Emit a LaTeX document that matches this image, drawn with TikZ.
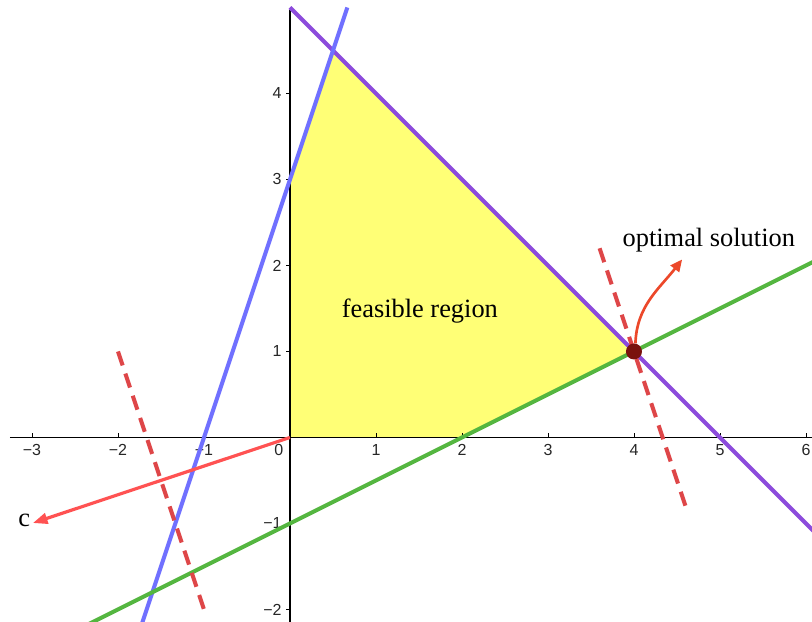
\documentclass[tikz,border=0pt]{standalone}
\usepackage{fontspec}
\setmainfont{Liberation Serif}
\newfontfamily\tickfont{Liberation Sans}
\usetikzlibrary{arrows.meta}
\definecolor{feasyellow}{RGB}{255,255,118}
\definecolor{linepurple}{RGB}{140,75,220}
\definecolor{lineblue}{RGB}{112,112,255}
\definecolor{linegreen}{RGB}{84,182,64}
\definecolor{vecred}{RGB}{255,82,82}
\definecolor{dashred}{RGB}{222,70,72}
\definecolor{ptred}{RGB}{122,18,14}
\definecolor{arrred}{RGB}{236,72,42}
\tikzset{
  constraint/.style={line width=3pt},
  axisline/.style={line width=0.9pt, black},
  levelset/.style={line width=3pt, dashred, dash pattern=on 11pt off 6.5pt},
  tick/.style={line width=0.6pt, black},
  ticklab/.style={font=\tickfont\fontsize{12}{14}\selectfont, text=black!85, inner sep=1pt},
  biglab/.style={font=\fontsize{19.8}{22}\selectfont, inner sep=0pt},
}
\begin{document}
\begin{tikzpicture}[x=64.5pt,y=64.5pt]
\useasboundingbox (-3.372,-2.145) rectangle (6.070,5.087);
\begin{scope}
\clip (-3.372,-2.145) rectangle (6.070,5.087);
% feasible region
\fill[feasyellow] (0,0) -- (0,3) -- (0.5,4.5) -- (4,1) -- (2,0) -- cycle;
% axes
\coordinate (xl) at (-3.256,0);
\coordinate (xr) at (6.07,0);
\coordinate (yb) at (0,-2.145);
\coordinate (yt) at (0,4.97);
\draw[axisline] (xl) -- (xr);
\draw[axisline] (yb) -- (yt);
% ticks x
\foreach \i/\t in {-3/−3,-2/−2,-1/−1,1/1,2/2,3/3,4/4,5/5,6/6}{
  \draw[tick] (\i,0) -- ++(0,3pt);
  \node[ticklab, anchor=north] (tx\i) at (\i,-0.06) {\t};
}
\node[ticklab, anchor=north east] (t0) at (-0.06,-0.06) {0};
% ticks y
\foreach \j/\t in {-2/−2,-1/−1,1/1,2/2,3/3,4/4}{
  \draw[tick] (0,\j) -- ++(-3pt,0);
  \node[ticklab, anchor=east] (ty\j) at (-0.08,\j) {\t};
}
% constraint lines
\coordinate (pA) at (0,5);
\coordinate (pB) at (6.1,-1.1);
\draw[constraint, linepurple] (pA) -- (pB);
\coordinate (bA) at (-1.73,-2.19);
\coordinate (bB) at (0.667,5);
\draw[constraint, lineblue] (bA) -- (bB);
\coordinate (gA) at (-2.4,-2.2);
\coordinate (gB) at (6.2,2.1);
\draw[constraint, linegreen] (gA) -- (gB);
% level sets
\coordinate (d1a) at (-2,1);
\coordinate (d1b) at (-1,-2);
\draw[levelset] (d1a) -- (d1b);
\coordinate (d2a) at (3.6,2.2);
\coordinate (d2b) at (4.6,-0.8);
\draw[levelset] (d2a) -- (d2b);
% cost vector
\coordinate (O) at (0,0);
\coordinate (C) at (-2.99,-0.995);
\draw[line width=2.4pt, vecred, -{Triangle[length=11pt,width=8pt]}] (O) -- (C);
\node[biglab, anchor=east] (clab) at (-3.02,-0.97) {c};
% optimum
\node[circle, fill=ptred, minimum size=12pt, inner sep=0pt] (P) at (4,1) {};
\coordinate (tipOpt) at (4.56,2.07);
\draw[line width=2pt, arrred, -{Triangle[length=9pt,width=8pt]}] (P.80) to[out=88,in=232] (tipOpt);
\node[biglab] (optlab) at (4.87,2.3) {optimal solution};
\node[biglab] (feaslab) at (1.51,1.47) {feasible region};
\end{scope}
\end{tikzpicture}
\end{document}
